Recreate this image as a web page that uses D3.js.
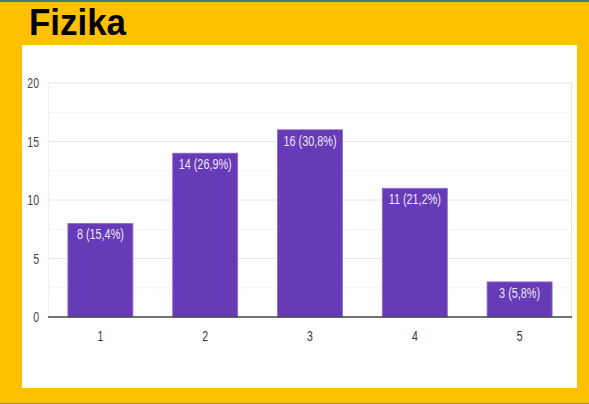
<!DOCTYPE html>
<html>
<head>
<meta charset="utf-8">
<script src="https://cdn.jsdelivr.net/npm/d3@7"></script>
<style>
html,body{margin:0;padding:0;background:#FFC000;}
svg{display:block;}
</style>
</head>
<body>
<svg id="chart" width="589" height="404"></svg>
<script>
const title = "Fizika";
const categories = ["1", "2", "3", "4", "5"];
const counts = [8, 14, 16, 11, 3];
const labels = ["8 (15,4%)", "14 (26,9%)", "16 (30,8%)", "11 (21,2%)", "3 (5,8%)"];
const yTicks = [0, 5, 10, 15, 20];
const yMinorTicks = [2.5, 7.5, 12.5, 17.5];

const svg = d3.select("#chart");
const W = 589, H = 404;

// background frame
svg.append("rect").attr("x",0).attr("y",0).attr("width",W).attr("height",H).attr("fill","#FFC000");
svg.append("rect").attr("x",0).attr("y",0).attr("width",W).attr("height",2).attr("fill","#4d6f8e");
svg.append("rect").attr("x",0).attr("y",403).attr("width",W).attr("height",1).attr("fill","#a8923c");
svg.append("rect").attr("x",22).attr("y",45).attr("width",555).attr("height",343).attr("fill","#ffffff");

// title
svg.append("text").text(title)
  .attr("x",29).attr("y",34.5)
  .attr("font-family","'Liberation Sans',Arial,sans-serif")
  .attr("font-weight","bold").attr("font-size",37)
  .attr("textLength",97).attr("lengthAdjust","spacingAndGlyphs")
  .attr("fill","#000");

const plot = {left:48, right:572, top:83, bottom:317};
const x = d3.scaleBand().domain(categories).range([plot.left, plot.right]).paddingInner(0.38).paddingOuter(0.19);
const y = d3.scaleLinear().domain([0,20]).range([plot.bottom, plot.top]);

const sx = 0.7;
const fontFam = "'Liberation Sans',Arial,sans-serif";

// minor grid
svg.append("g").selectAll("line").data(yMinorTicks).join("line")
  .attr("x1",plot.left).attr("x2",plot.right)
  .attr("y1",d=>y(d)).attr("y2",d=>y(d))
  .attr("stroke","#f4f4f4").attr("stroke-width",1);
// major grid
svg.append("g").selectAll("line").data(yTicks.filter(d=>d>0)).join("line")
  .attr("x1",plot.left).attr("x2",plot.right)
  .attr("y1",d=>y(d)).attr("y2",d=>y(d))
  .attr("stroke","#e6e6e6").attr("stroke-width",1);
// side borders
svg.append("line").attr("x1",plot.left+0.5).attr("x2",plot.left+0.5).attr("y1",plot.top).attr("y2",plot.bottom).attr("stroke","#f0f0f0");
svg.append("line").attr("x1",plot.right-0.5).attr("x2",plot.right-0.5).attr("y1",plot.top).attr("y2",plot.bottom).attr("stroke","#e4e4e4");

// y axis labels
svg.append("g").selectAll("text").data(yTicks).join("text")
  .attr("transform",d=>`translate(39,${y(d)+5}) scale(${sx},1)`)
  .attr("text-anchor","end")
  .attr("font-family",fontFam).attr("font-size",15)
  .attr("fill","#444")
  .text(d=>d);

// bars
svg.append("g").selectAll("rect").data(counts).join("rect")
  .attr("x",(d,i)=>x(categories[i]))
  .attr("y",d=>y(d))
  .attr("width",x.bandwidth())
  .attr("height",d=>y(0)-y(d))
  .attr("fill","#673ab7")
  .attr("stroke","#8e6cc9").attr("stroke-width",0.8);

// bar labels
svg.append("g").selectAll("text").data(counts).join("text")
  .attr("transform",(d,i)=>`translate(${x(categories[i])+x.bandwidth()/2},${y(d)+16}) scale(${sx},1)`)
  .attr("text-anchor","middle")
  .attr("font-family",fontFam).attr("font-size",15.5)
  .attr("fill","#ede7f6")
  .text((d,i)=>labels[i]);

// baseline
svg.append("line").attr("x1",plot.left).attr("x2",plot.right).attr("y1",y(0)).attr("y2",y(0))
  .attr("stroke","#444").attr("stroke-width",1.5);

// x axis labels
svg.append("g").selectAll("text").data(categories).join("text")
  .attr("transform",d=>`translate(${x(d)+x.bandwidth()/2},${341}) scale(${sx},1)`)
  .attr("text-anchor","middle")
  .attr("font-family",fontFam).attr("font-size",15)
  .attr("fill","#333")
  .text(d=>d);
</script>
</body>
</html>
